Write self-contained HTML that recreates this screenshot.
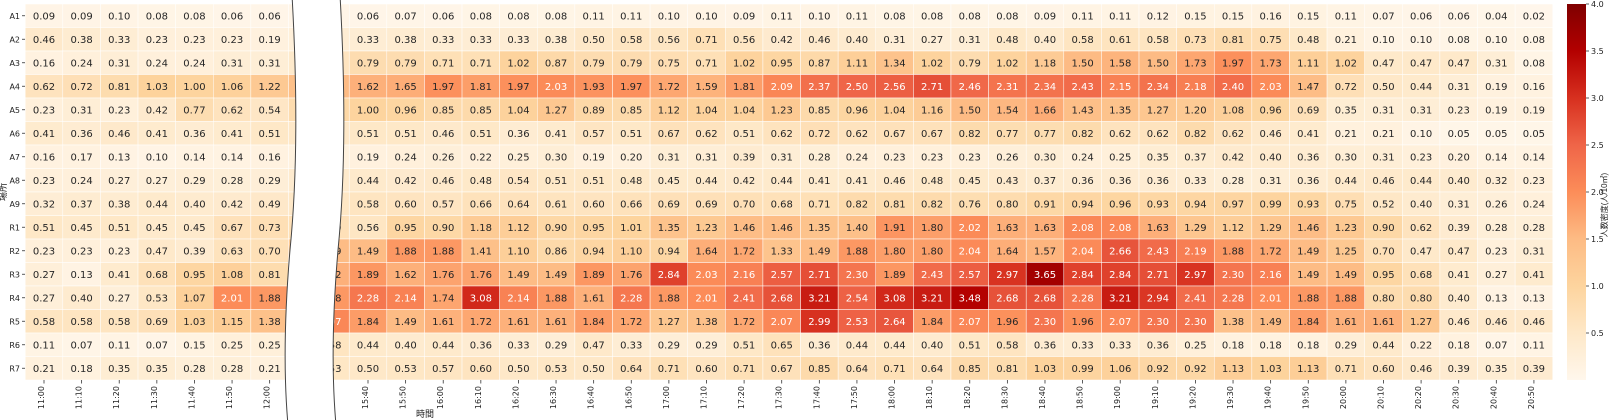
<!DOCTYPE html>
<html><head><meta charset="utf-8">
<style>
html,body{margin:0;padding:0;background:#fff;}
svg{display:block;font-family:"DejaVu Sans","Liberation Sans","Noto Sans CJK JP",sans-serif;}
</style></head>
<body>
<svg id="s" width="1614" height="420" viewBox="0 0 1614 420" xmlns="http://www.w3.org/2000/svg">
<defs>
<linearGradient id="cb" x1="0" y1="1" x2="0" y2="0">
<stop offset="0" stop-color="#fff7ec"/><stop offset="0.125" stop-color="#fee8c8"/><stop offset="0.25" stop-color="#fdd49e"/><stop offset="0.375" stop-color="#fdbb84"/><stop offset="0.5" stop-color="#fc8d59"/><stop offset="0.625" stop-color="#ef6548"/><stop offset="0.75" stop-color="#d7301f"/><stop offset="0.875" stop-color="#b30000"/><stop offset="1" stop-color="#7f0000"/>
</linearGradient>
</defs>
<g id="cells"></g>
<path d="M292,-5 C298,100 297,180 290,250 C284,320 284,380 288,425 L336,425 C332,380 332,320 338,250 C345,180 346,100 340,-5 Z" fill="#fff"/>
<path d="M292,-5 C298,100 297,180 290,250 C284,320 284,380 288,425" fill="none" stroke="#444" stroke-width="1"/>
<path d="M340,-5 C346,100 345,180 338,250 C332,320 332,380 336,425" fill="none" stroke="#444" stroke-width="1"/>
<g id="ax"></g>
<rect x="1567" y="4" width="19" height="376" fill="url(#cb)"/>
<text x="6" y="192" font-size="9" fill="#222" transform="rotate(-90 6 192)" text-anchor="middle" font-family="'Liberation Sans','Noto Sans CJK JP',sans-serif">場所</text>
<text x="425" y="417" font-size="9" fill="#222" text-anchor="middle" font-family="'Liberation Sans','Noto Sans CJK JP',sans-serif">時間</text>
<text x="1607" y="205" font-size="8" fill="#222" transform="rotate(-90 1607 205)" text-anchor="middle" font-family="'Liberation Sans','Noto Sans CJK JP',sans-serif">人数密度(人/10㎡)</text>
</svg>
<script>
(function(){
var rows=["A1","A2","A3","A4","A5","A6","A7","A8","A9","R1","R2","R3","R4","R5","R6","R7"];
var L=[
[0.09,0.09,0.10,0.08,0.08,0.06,0.06,0.06],
[0.46,0.38,0.33,0.23,0.23,0.23,0.19,0.25],
[0.16,0.24,0.31,0.24,0.24,0.31,0.31,0.45],
[0.62,0.72,0.81,1.03,1.00,1.06,1.22,1.40],
[0.23,0.31,0.23,0.42,0.77,0.62,0.54,0.80],
[0.41,0.36,0.46,0.41,0.36,0.41,0.51,0.50],
[0.16,0.17,0.13,0.10,0.14,0.14,0.16,0.18],
[0.23,0.24,0.27,0.27,0.29,0.28,0.29,0.40],
[0.32,0.37,0.38,0.44,0.40,0.42,0.49,0.50],
[0.51,0.45,0.51,0.45,0.45,0.67,0.73,0.70],
[0.23,0.23,0.23,0.47,0.39,0.63,0.70,1.20],
[0.27,0.13,0.41,0.68,0.95,1.08,0.81,1.50],
[0.27,0.40,0.27,0.53,1.07,2.01,1.88,1.90],
[0.58,0.58,0.58,0.69,1.03,1.15,1.38,1.80],
[0.11,0.07,0.11,0.07,0.15,0.25,0.25,0.50],
[0.21,0.18,0.35,0.35,0.28,0.28,0.21,0.50]];
var R=[
[0.06,0.06,0.07,0.06,0.08,0.08,0.08,0.11,0.11,0.10,0.10,0.09,0.11,0.10,0.11,0.08,0.08,0.08,0.08,0.09,0.11,0.11,0.12,0.15,0.15,0.16,0.15,0.11,0.07,0.06,0.06,0.04,0.02],
[0.33,0.33,0.38,0.33,0.33,0.33,0.38,0.50,0.58,0.56,0.71,0.56,0.42,0.46,0.40,0.31,0.27,0.31,0.48,0.40,0.58,0.61,0.58,0.73,0.81,0.75,0.48,0.21,0.10,0.10,0.08,0.10,0.08],
[0.60,0.79,0.79,0.71,0.71,1.02,0.87,0.79,0.79,0.75,0.71,1.02,0.95,0.87,1.11,1.34,1.02,0.79,1.02,1.18,1.50,1.58,1.50,1.73,1.97,1.73,1.11,1.02,0.47,0.47,0.47,0.31,0.08],
[1.50,1.62,1.65,1.97,1.81,1.97,2.03,1.93,1.97,1.72,1.59,1.81,2.09,2.37,2.50,2.56,2.71,2.46,2.31,2.34,2.43,2.15,2.34,2.18,2.40,2.03,1.47,0.72,0.50,0.44,0.31,0.19,0.16],
[0.90,1.00,0.96,0.85,0.85,1.04,1.27,0.89,0.85,1.12,1.04,1.04,1.23,0.85,0.96,1.04,1.16,1.50,1.54,1.66,1.43,1.35,1.27,1.20,1.08,0.96,0.69,0.35,0.31,0.31,0.23,0.19,0.19],
[0.50,0.51,0.51,0.46,0.51,0.36,0.41,0.57,0.51,0.67,0.62,0.51,0.62,0.72,0.62,0.67,0.67,0.82,0.77,0.77,0.82,0.62,0.62,0.82,0.62,0.46,0.41,0.21,0.21,0.10,0.05,0.05,0.05],
[0.18,0.19,0.24,0.26,0.22,0.25,0.30,0.19,0.20,0.31,0.31,0.39,0.31,0.28,0.24,0.23,0.23,0.23,0.26,0.30,0.24,0.25,0.35,0.37,0.42,0.40,0.36,0.30,0.31,0.23,0.20,0.14,0.14],
[0.44,0.44,0.42,0.46,0.48,0.54,0.51,0.51,0.48,0.45,0.44,0.42,0.44,0.41,0.41,0.46,0.48,0.45,0.43,0.37,0.36,0.36,0.36,0.33,0.28,0.31,0.36,0.44,0.46,0.44,0.40,0.32,0.23],
[0.53,0.58,0.60,0.57,0.66,0.64,0.61,0.60,0.66,0.69,0.69,0.70,0.68,0.71,0.82,0.81,0.82,0.76,0.80,0.91,0.94,0.96,0.93,0.94,0.97,0.99,0.93,0.75,0.52,0.40,0.31,0.26,0.24],
[0.69,0.56,0.95,0.90,1.18,1.12,0.90,0.95,1.01,1.35,1.23,1.46,1.46,1.35,1.40,1.91,1.80,2.02,1.63,1.63,2.08,2.08,1.63,1.29,1.12,1.29,1.46,1.23,0.90,0.62,0.39,0.28,0.28],
[1.49,1.49,1.88,1.88,1.41,1.10,0.86,0.94,1.10,0.94,1.64,1.72,1.33,1.49,1.88,1.80,1.80,2.04,1.64,1.57,2.04,2.66,2.43,2.19,1.88,1.72,1.49,1.25,0.70,0.47,0.47,0.23,0.31],
[1.62,1.89,1.62,1.76,1.76,1.49,1.49,1.89,1.76,2.84,2.03,2.16,2.57,2.71,2.30,1.89,2.43,2.57,2.97,3.65,2.84,2.84,2.71,2.97,2.30,2.16,1.49,1.49,0.95,0.68,0.41,0.27,0.41],
[1.88,2.28,2.14,1.74,3.08,2.14,1.88,1.61,2.28,1.88,2.01,2.41,2.68,3.21,2.54,3.08,3.21,3.48,2.68,2.68,2.28,3.21,2.94,2.41,2.28,2.01,1.88,1.88,0.80,0.80,0.40,0.13,0.13],
[2.07,1.84,1.49,1.61,1.72,1.61,1.61,1.84,1.72,1.27,1.38,1.72,2.07,2.99,2.53,2.64,1.84,2.07,1.96,2.30,1.96,2.07,2.30,2.30,1.38,1.49,1.84,1.61,1.61,1.27,0.46,0.46,0.46],
[0.58,0.44,0.40,0.44,0.36,0.33,0.29,0.47,0.33,0.29,0.29,0.51,0.65,0.36,0.44,0.44,0.40,0.51,0.58,0.36,0.33,0.33,0.36,0.25,0.18,0.18,0.18,0.29,0.44,0.22,0.18,0.07,0.11],
[0.53,0.50,0.53,0.57,0.60,0.50,0.53,0.50,0.64,0.71,0.60,0.71,0.67,0.85,0.64,0.71,0.64,0.85,0.81,1.03,0.99,1.06,0.92,0.92,1.13,1.03,1.13,0.71,0.60,0.46,0.39,0.35,0.39]];
var stops=[[255,247,236],[254,232,200],[253,212,158],[253,187,132],[252,141,89],[239,101,72],[215,48,31],[179,0,0],[127,0,0]];
function col(v){var t=Math.max(0,Math.min(1,v/4))*8;var i=Math.min(7,Math.floor(t));var f=t-i;var a=stops[i],b=stops[i+1];
return "rgb("+[0,1,2].map(function(k){return Math.round(a[k]+(b[k]-a[k])*f)}).join(",")+")";}
var cw=37.61,rh=23.5,y0=4,h="";
function cell(x,y,v){h+='<rect x="'+x.toFixed(2)+'" y="'+y.toFixed(2)+'" width="'+cw.toFixed(2)+'" height="'+rh+'" fill="'+col(v)+'" stroke="#fff" stroke-width="0.5"/>';
h+='<text x="'+(x+cw/2).toFixed(2)+'" y="'+(y+rh/2+3.6).toFixed(2)+'" font-size="10" text-anchor="middle" fill="'+(v>=2.0?"#fff":"#262626")+'">'+v.toFixed(2)+'</text>';}
for(var r=0;r<16;r++){var y=y0+r*rh;
for(var i=0;i<8;i++)cell(25.2+i*cw,y,L[r][i]);
for(var j=0;j<33;j++)cell(311.6+j*cw,y,R[r][j]);}
document.getElementById("cells").innerHTML=h;
var a="";
for(var r2=0;r2<16;r2++){var yy=y0+r2*rh+rh/2;
a+='<line x1="22" x2="25" y1="'+yy+'" y2="'+yy+'" stroke="#333" stroke-width="0.8"/>';
a+='<text x="20" y="'+(yy+3)+'" font-size="8" text-anchor="end" fill="#222">'+rows[r2]+'</text>';}
function tl(cx,lab){a+='<line x1="'+cx+'" x2="'+cx+'" y1="380" y2="383.5" stroke="#333" stroke-width="0.8"/>';
a+='<text x="'+(cx+3)+'" y="386" font-size="8" text-anchor="end" fill="#222" transform="rotate(-90 '+(cx+3)+' 386)">'+lab+'</text>';}
var lt=["11:00","11:10","11:20","11:30","11:40","11:50","12:00"];
for(var i2=0;i2<7;i2++)tl((25.2+i2*cw+cw/2).toFixed(2),lt[i2]);
for(var j2=0;j2<32;j2++){var m=15*60+40+j2*10;var hh=Math.floor(m/60),mm=m%60;tl((349.2+j2*cw+cw/2).toFixed(2),hh+":"+(mm<10?"0":"")+mm);}
var tv=["0.5","1.0","1.5","2.0","2.5","3.0","3.5","4.0"];
for(var k=0;k<8;k++){var v=parseFloat(tv[k]);var ty=380-v*94;
a+='<line x1="1586" x2="1589" y1="'+ty+'" y2="'+ty+'" stroke="#333" stroke-width="0.8"/>';
a+='<text x="1591" y="'+(ty+3)+'" font-size="8" fill="#222">'+tv[k]+'</text>';}
document.getElementById("ax").innerHTML=a;
})();
</script>
</body></html>
